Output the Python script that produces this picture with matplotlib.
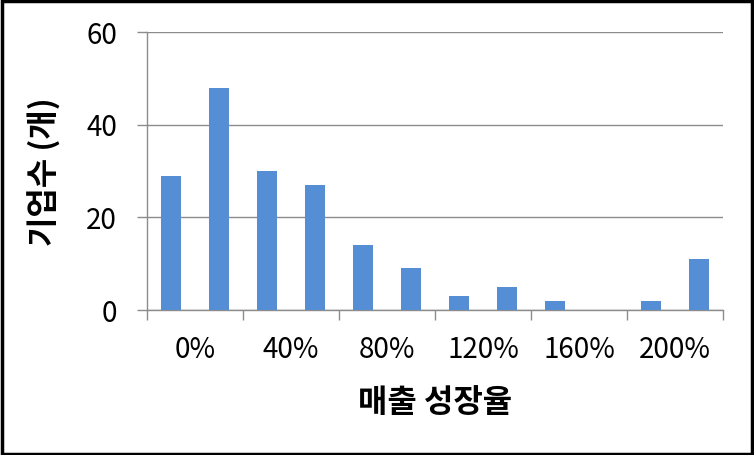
import numpy as np
import matplotlib
matplotlib.use("Agg")
import matplotlib.pyplot as plt
from matplotlib.patches import Rectangle

plt.rcParams['font.family'] = ['Noto Sans CJK KR', 'DejaVu Sans']

# bar heights per growth bin (12 bins, label every other boundary)
counts = [29, 48, 30, 27, 14, 9, 3, 5, 2, 0, 2, 11]
tick_labels = ['0%', '40%', '80%', '120%', '160%', '200%']
xlabel = '매출 성장율'
ylabel = '기업수 (개)'

fig = plt.figure(figsize=(7.54, 4.55), dpi=100)
ax = fig.add_axes([147/754, 1 - 310/455, (723-147)/754, (310-32)/455])

x = np.arange(len(counts))
ax.bar(x, counts, width=0.4, color='#558ED5', zorder=3)

ax.set_xlim(-0.5, len(counts) - 0.5)
ax.set_ylim(0, 60)
ax.set_yticks([0, 20, 40, 60])
ax.yaxis.grid(True, color='#8C8C8C', linewidth=1.0, zorder=0)

# tick marks at bin edges, labels every other edge
ax.set_xticks(np.arange(-0.5, len(counts)), minor=True)
ax.set_xticks(np.arange(0.5, len(counts), 2))
ax.set_xticklabels(tick_labels)
ax.tick_params(axis='x', which='minor', length=7.5, width=1.0, color='#8C8C8C')
ax.tick_params(axis='x', which='major', length=0, pad=18, labelsize=20)
ax.tick_params(axis='y', length=7.5, width=1.0, color='#8C8C8C', pad=14, labelsize=20)

for s in ['top', 'right']:
    ax.spines[s].set_visible(False)
for s in ['left', 'bottom']:
    ax.spines[s].set_color('#8C8C8C')
    ax.spines[s].set_linewidth(1.0)

fig.text(435/754, 1 - 403/455, xlabel, ha='center', va='center',
         fontsize=23, fontweight='bold')
fig.text(45/754, 1 - 172/455, ylabel, ha='center', va='center',
         rotation=90, fontsize=23, fontweight='bold')

fig.patches.append(Rectangle((0.002, 0.003), 0.996, 0.994, transform=fig.transFigure,
                             fill=False, edgecolor='black', linewidth=2.5))

fig.savefig('out.png', dpi=100)
